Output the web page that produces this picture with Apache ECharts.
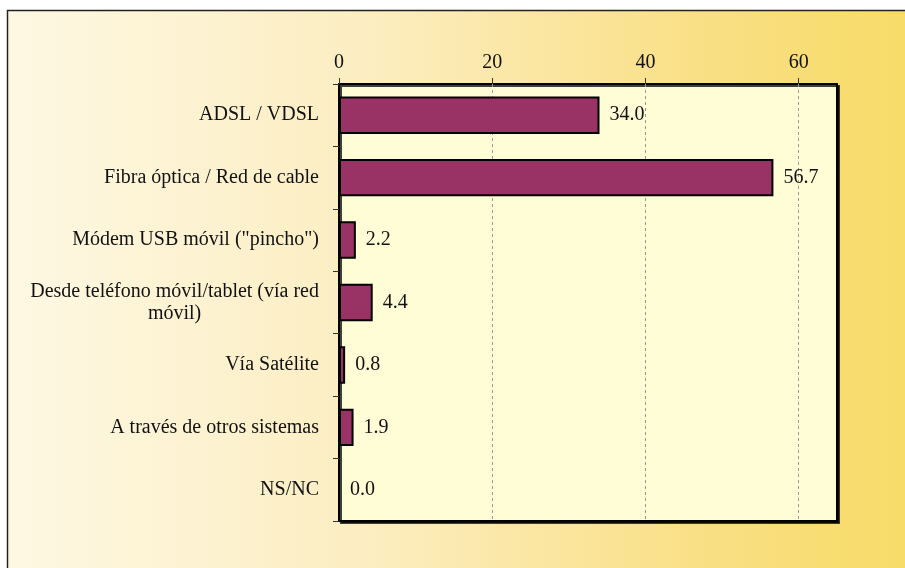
<!DOCTYPE html>
<html>
<head>
<meta charset="utf-8">
<script src="https://cdn.jsdelivr.net/npm/echarts@6/dist/echarts.min.js"></script>
<style>html,body{margin:0;padding:0;background:#fff;}#c{width:905px;height:568px;}</style>
</head>
<body>
<div id="c"></div>
<script>
var categories = ["ADSL / VDSL", "Fibra óptica / Red de cable", "Módem USB móvil (\"pincho\")", "Desde teléfono móvil/tablet (vía red\nmóvil)", "Vía Satélite", "A través de otros sistemas", "NS/NC"];
var values = [34.0, 56.7, 2.2, 4.4, 0.8, 1.9, 0.0];
var xTicks = [0, 20, 40, 60];

var FONT = "'Liberation Serif', 'Times New Roman', serif";
var chart = echarts.init(document.getElementById('c'), null, {renderer: 'canvas'});
chart.setOption({
  animation: false,
  graphic: [{
    type: 'rect', z: -10, silent: true,
    shape: {x: 7.5, y: 10.5, width: 1000, height: 1000},
    style: {
      fill: new echarts.graphic.LinearGradient(0, 0, 1, 0, [
        {offset: 0, color: '#FEF8E3'},
        {offset: 0.35, color: '#FCEEC2'},
        {offset: 0.7, color: '#F9DF84'},
        {offset: 1, color: '#F7DA5A'}
      ], false),
      stroke: '#222', lineWidth: 1.5
    }
  }],
  grid: {
    left: 339, top: 84, right: 68, bottom: 47,
    show: true, backgroundColor: '#FFFDD6', borderColor: '#000', borderWidth: 2,
    shadowColor: 'rgba(0,0,0,0.75)', shadowOffsetX: 2, shadowOffsetY: 2, shadowBlur: 0
  },
  xAxis: {
    type: 'value', position: 'top', min: 0, max: 65,
    axisLine: {show: false},
    axisTick: {show: true, length: 6, lineStyle: {color: '#333'}, customValues: xTicks},
    splitLine: {show: true, lineStyle: {color: '#999', type: [3, 3], width: 1}},
    axisLabel: {
      margin: 11, color: '#111', fontFamily: FONT, fontSize: 20,
      customValues: xTicks
    }
  },
  yAxis: {
    type: 'category', data: categories, inverse: true,
    axisLine: {show: true, lineStyle: {color: '#000', width: 2}},
    axisTick: {show: true, length: 6, lineStyle: {color: '#333'}},
    axisLabel: {
      margin: 20, color: '#111', fontFamily: FONT, fontSize: 20,
      formatter: function (v) {
        return v.split('\n').map(function (l) { return '{c|' + l + '}'; }).join('\n');
      },
      rich: {c: {align: 'center', fontFamily: FONT, fontSize: 20, color: '#111', lineHeight: 22}}
    }
  },
  series: [{
    type: 'bar', data: values, barCategoryGap: '40%',
    itemStyle: {color: '#993366', borderColor: '#000', borderWidth: 2},
    label: {
      show: true, position: 'right', distance: 10, color: '#111',
      fontFamily: FONT, fontSize: 20,
      formatter: function (p) { return p.value.toFixed(1); }
    }
  }]
});
</script>
</body>
</html>
